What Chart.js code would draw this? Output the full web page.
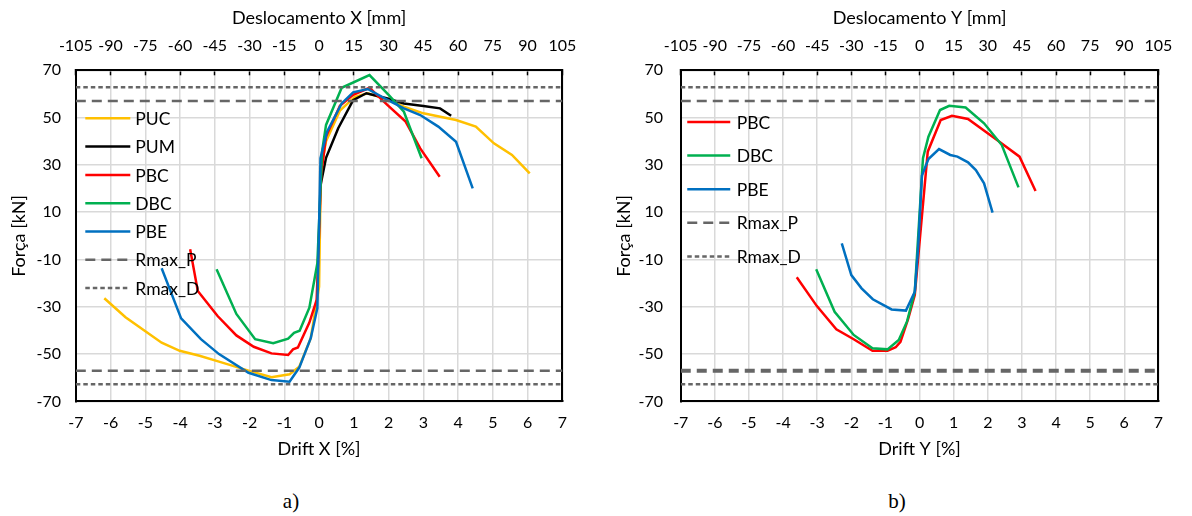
<!DOCTYPE html>
<html>
<head>
<meta charset="utf-8">
<script src="https://cdn.jsdelivr.net/npm/chart.js@4.4.1/dist/chart.umd.min.js"></script>
<style>
  html, body { margin: 0; padding: 0; background: #fff; }
  body { width: 1192px; height: 516px; position: relative; overflow: hidden; }
  .panel { position: absolute; top: 0; }
  #pa { left: 0; }
  #pb { left: 600px; }
  .tag { position: absolute; top: 489px; width: 40px; text-align: center;
         font-family: "Liberation Serif", "Times New Roman", serif; font-size: 21px; color: #000; }
</style>
</head>
<body>
<div class="panel" id="pa"><canvas id="chartX" width="596" height="470"></canvas></div>
<div class="panel" id="pb"><canvas id="chartY" width="592" height="470"></canvas></div>
<div class="tag" style="left:271px">a)</div>
<div class="tag" style="left:877px">b)</div>

<script>
// ---- axis ticks ----
const forceTicks = [-70, -50, -30, -10, 10, 30, 50, 70];
const driftTicks = [-7, -6, -5, -4, -3, -2, -1, 0, 1, 2, 3, 4, 5, 6, 7];
const dispTicks = [-105, -90, -75, -60, -45, -30, -15, 0, 15, 30, 45, 60, 75, 90, 105];

// ---- reference resistances [kN] ----
const rmaxP = 57.0;
const rmaxD = 62.8;

// ---- X direction: drift [%] and force [kN] ----
const xPUC_drift = [-6.18, -5.57, -4.53, -4.01, -3.44, -2.88, -2.03, -1.37, -0.85, -0.57, -0.24, 0.0, 0.05, 0.2, 0.6, 1.03, 1.40, 1.87, 2.44, 3.0, 3.94, 4.51, 5.03, 5.55, 6.06];
const xPUC_force = [-26.4, -34.4, -45.2, -48.6, -50.7, -53.2, -57.0, -59.8, -58.5, -55.3, -43.3, -21.5, 28.0, 40.0, 53.0, 58.8, 60.3, 58.2, 54.6, 51.8, 49.0, 46.2, 39.1, 34.2, 26.4];

const xPUM_drift = [0.05, 0.2, 0.55, 0.98, 1.36, 1.97, 2.44, 3.0, 3.48, 3.80];
const xPUM_force = [22.0, 33.0, 45.5, 57.4, 60.3, 58.1, 56.0, 54.9, 53.9, 50.8];

const xPBC_drift = [-3.71, -3.49, -2.92, -2.38, -1.88, -1.37, -0.89, -0.75, -0.61, -0.28, -0.07, 0.06, 0.2, 0.6, 0.98, 1.45, 1.97, 2.49, 2.91, 3.47];
const xPBC_force = [-5.7, -23.3, -33.9, -42.1, -46.9, -49.7, -50.4, -48.0, -47.2, -36.7, -27.1, 26.0, 42.0, 55.0, 59.6, 62.6, 55.3, 48.3, 37.0, 25.0];

const xDBC_drift = [-2.95, -2.38, -1.84, -1.32, -0.89, -0.72, -0.56, -0.28, -0.05, 0.085, 0.2, 0.65, 1.45, 2.0, 2.44, 2.95];
const xDBC_force = [-14.1, -33.0, -43.7, -45.4, -43.5, -41.0, -40.1, -30.4, -11.6, 35.6, 46.9, 62.6, 68.0, 59.6, 52.5, 32.8];

const xPBE_drift = [-4.53, -3.97, -3.40, -2.88, -2.03, -1.37, -0.85, -0.57, -0.24, -0.05, 0.04, 0.23, 0.65, 0.98, 1.40, 1.90, 2.44, 2.91, 3.43, 3.94, 4.42];
const xPBE_force = [-13.7, -34.9, -43.7, -50.0, -57.9, -61.0, -61.7, -55.7, -43.3, -30.6, 32.8, 44.0, 56.0, 60.7, 62.1, 58.0, 53.9, 51.1, 46.2, 39.8, 20.1];

// ---- Y direction: drift [%] and force [kN] ----
const yPBC_drift = [-3.60, -3.01, -2.44, -1.93, -1.38, -0.94, -0.70, -0.56, -0.33, -0.14, 0.24, 0.62, 0.95, 1.42, 2.27, 2.93, 3.40];
const yPBC_force = [-17.5, -29.7, -39.5, -43.7, -48.6, -48.6, -47.1, -44.8, -34.9, -25.0, 35.6, 49.0, 50.8, 49.4, 40.5, 33.5, 19.0];

const yDBC_drift = [-3.03, -2.49, -1.93, -1.38, -0.94, -0.61, -0.37, -0.14, 0.1, 0.26, 0.60, 0.87, 1.35, 1.89, 2.41, 2.90];
const yDBC_force = [-14.1, -32.1, -41.9, -47.5, -48.0, -44.0, -36.3, -23.6, 32.8, 41.9, 53.2, 55.0, 54.3, 47.6, 38.4, 20.5];

const yPBE_drift = [-2.28, -2.0, -1.70, -1.37, -0.82, -0.40, -0.14, -0.04, 0.07, 0.26, 0.57, 0.90, 1.11, 1.42, 1.65, 1.89, 2.14];
const yPBE_force = [-3.2, -16.6, -22.2, -26.8, -31.1, -31.6, -23.6, -4.6, 25.5, 32.5, 36.7, 34.2, 33.5, 31.1, 27.8, 22.2, 9.8];

// ---- styling ----
const FAMILY = 'Lato, "Open Sans", sans-serif';
const TICK_FONT = { family: FAMILY, size: 16, lineHeight: 1.2 };
const TITLE_FONT = { family: FAMILY, size: 18, lineHeight: 1.2 };
const LEGEND_SIZE = 17.5;
const TICK_HALF = TICK_FONT.size * TICK_FONT.lineHeight / 2;
const TITLE_HALF = TITLE_FONT.size * TITLE_FONT.lineHeight / 2;
const TEXT = '#000';
const GRID = '#d9d9d9';
const LINE_W = 2.5;
const COLORS = { PUC: '#FFC000', PUM: '#000000', PBC: '#FF0000', DBC: '#00B050', PBE: '#0070C0', RMAX: '#666666' };
const DASH_P = [10, 6];
const DASH_D = [4.5, 3];

const pts = (d, f) => d.map((v, i) => ({ x: v, y: f[i] }));

function curve(label, drift, force, color, order) {
  return {
    label, data: pts(drift, force), showLine: true, borderColor: color, backgroundColor: color,
    borderWidth: LINE_W, pointRadius: 0, fill: false, tension: 0, order,
    legendItem: { label, color, width: LINE_W, dash: [] }
  };
}

function level(label, value, dash, width, withLegend) {
  const ds = {
    label, data: [{ x: driftTicks[0], y: value }, { x: driftTicks[driftTicks.length - 1], y: value }],
    showLine: true, borderColor: COLORS.RMAX, borderWidth: width, borderDash: dash,
    pointRadius: 0, fill: false, order: 0
  };
  if (withLegend) ds.legendItem = { label, color: COLORS.RMAX, width: LINE_W, dash };
  return ds;
}

// legend drawn inside the plot area, one row per series
const insideLegend = {
  id: 'insideLegend',
  afterDatasetsDraw(chart, args, o) {
    const ctx = chart.ctx, a = chart.chartArea;
    const items = chart.data.datasets.filter(d => d.legendItem).map(d => d.legendItem);
    ctx.save();
    ctx.font = `${LEGEND_SIZE}px ${FAMILY}`;
    ctx.textBaseline = 'middle';
    ctx.textAlign = 'left';
    items.forEach((it, i) => {
      const y = o.top + i * o.step;
      ctx.beginPath();
      ctx.strokeStyle = it.color;
      ctx.lineWidth = it.width;
      ctx.setLineDash(it.dash);
      ctx.moveTo(a.left + o.x0, y);
      ctx.lineTo(a.left + o.x1, y);
      ctx.stroke();
      ctx.setLineDash([]);
      ctx.fillStyle = TEXT;
      ctx.fillText(it.label, a.left + o.tx, y + 1);
    });
    ctx.restore();
  }
};

// curves first (legend order), then the reference levels
const legendSort = (a, b) => (a.legendItem ? (a.order === 0 ? 10 : 0) : 20) - (b.legendItem ? (b.order === 0 ? 10 : 0) : 20);

function makeChart(canvasId, datasets, cfg) {
  const setTicks = list => s => { s.ticks = list.map(v => ({ value: v })); };
  const label = v => String(v);
  return new Chart(document.getElementById(canvasId), {
    type: 'scatter',
    data: { datasets: datasets.sort(legendSort) },
    options: {
      responsive: false,
      animation: false,
      events: [],
      layout: { padding: { left: 0, top: 0, bottom: 0, right: cfg.padRight } },
      plugins: {
        legend: { display: false },
        tooltip: { enabled: false },
        insideLegend: cfg.legend
      },
      scales: {
        x: {
          type: 'linear', position: 'bottom', min: -7, max: 7,
          afterBuildTicks: setTicks(driftTicks),
          ticks: { padding: 423 - cfg.bottom - TICK_HALF, color: TEXT, font: TICK_FONT, callback: label, maxRotation: 0, autoSkip: false },
          grid: { color: GRID, lineWidth: 1.5, drawTicks: false },
          border: { display: true, color: '#000', width: 2 },
          title: { display: true, text: cfg.bottomTitle, color: TEXT, font: TITLE_FONT, padding: { top: 0, bottom: 470 - 449 - TITLE_HALF } },
          afterFit: s => { s.height = 470 - cfg.bottom; }
        },
        x2: {
          type: 'linear', position: 'top', min: -105, max: 105,
          afterBuildTicks: setTicks(dispTicks),
          ticks: { padding: cfg.top + 5 - TICK_HALF - 46, color: TEXT, font: TICK_FONT, callback: label, maxRotation: 0, autoSkip: false },
          grid: { display: true, drawOnChartArea: false, drawTicks: true, tickLength: -5, tickColor: '#000', tickWidth: 1.5 },
          border: { display: true, color: '#000', width: 2 },
          title: { display: true, text: cfg.topTitle, color: TEXT, font: TITLE_FONT, padding: { top: 18 - TITLE_HALF, bottom: 0 } },
          afterFit: s => { s.height = cfg.top; }
        },
        y: {
          type: 'linear', position: 'left', min: -70, max: 70,
          afterBuildTicks: setTicks(forceTicks),
          ticks: { padding: cfg.yTickPad, color: TEXT, font: TICK_FONT, callback: label, autoSkip: false },
          grid: { color: GRID, lineWidth: 1.5, drawTicks: false },
          border: { display: true, color: '#000', width: 2 },
          title: { display: true, text: 'Força [kN]', color: TEXT, font: TITLE_FONT, padding: { top: cfg.yTitleX - TITLE_HALF, bottom: 0 } },
          afterFit: s => { s.width = cfg.left; }
        },
        yR: {
          type: 'linear', position: 'right', min: -70, max: 70,
          ticks: { display: false },
          grid: { display: false, drawTicks: false },
          border: { display: true, color: '#000', width: 2 },
          afterFit: s => { s.width = 0; }
        }
      }
    },
    plugins: [insideLegend]
  });
}

// ---- X direction chart ----
makeChart('chartX', [
  level('Rmax_P', rmaxP, DASH_P, LINE_W, true),
  level('Rmax_D', rmaxD, DASH_D, LINE_W, true),
  level('Rmax_P', -rmaxP, DASH_P, LINE_W, false),
  level('Rmax_D', -rmaxD, DASH_D, LINE_W, false),
  curve('PUC', xPUC_drift, xPUC_force, COLORS.PUC, 5),
  curve('PUM', xPUM_drift, xPUM_force, COLORS.PUM, 4),
  curve('PBC', xPBC_drift, xPBC_force, COLORS.PBC, 3),
  curve('DBC', xDBC_drift, xDBC_force, COLORS.DBC, 2),
  curve('PBE', xPBE_drift, xPBE_force, COLORS.PBE, 1)
], {
  left: 75.8, top: 70.3, bottom: 401.4, padRight: 596 - 571.4,
  yTickPad: 14.8, yTitleX: 19,
  topTitle: 'Deslocamento X [mm]', bottomTitle: 'Drift X [%]',
  legend: { top: 118.3, step: 28.3, x0: 9.5, x1: 54.5, tx: 59.5 }
});

// ---- Y direction chart ----
makeChart('chartY', [
  level('Rmax_P', rmaxP, DASH_P, LINE_W, true),
  level('Rmax_D', rmaxD, DASH_D, LINE_W, true),
  level('Rmax_P', -rmaxP, DASH_P, 4, false),
  level('Rmax_D', -rmaxD, DASH_D, LINE_W, false),
  curve('PBC', yPBC_drift, yPBC_force, COLORS.PBC, 3),
  curve('DBC', yDBC_drift, yDBC_force, COLORS.DBC, 2),
  curve('PBE', yPBE_drift, yPBE_force, COLORS.PBE, 1)
], {
  left: 80.75, top: 70.3, bottom: 401.4, padRight: 592 - 575.65,
  yTickPad: 17.7, yTitleX: 24,
  topTitle: 'Deslocamento Y [mm]', bottomTitle: 'Drift Y [%]',
  legend: { top: 122, step: 33.6, x0: 6.5, x1: 49.5, tx: 56 }
});
</script>
</body>
</html>
